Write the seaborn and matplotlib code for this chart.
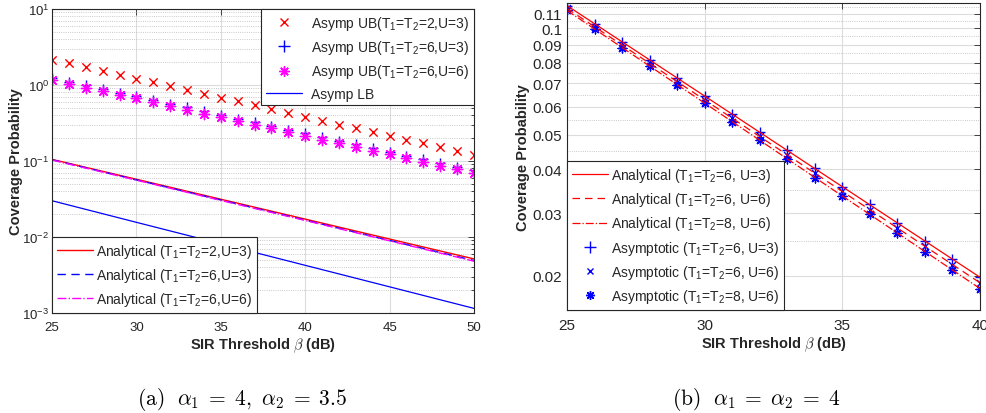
import matplotlib
matplotlib.use("Agg")
import matplotlib.pyplot as plt
import seaborn as sns
from matplotlib.lines import Line2D
from matplotlib.ticker import FixedLocator, FixedFormatter, LogLocator, NullFormatter

# ---------------- data: panel (a) ----------------
beta_a = list(range(25, 51))
ub_t2_u3 = [2.15, 1.92, 1.71, 1.52, 1.36, 1.21, 1.08, 0.96, 0.86, 0.76, 0.68, 0.61, 0.54,
            0.48, 0.43, 0.38, 0.34, 0.30, 0.27, 0.24, 0.215, 0.19, 0.17, 0.152, 0.136, 0.121]
ub_t6_u3 = [1.24, 1.11, 0.99, 0.886, 0.792, 0.72, 0.64, 0.57, 0.506, 0.452, 0.404, 0.361, 0.323,
            0.289, 0.258, 0.231, 0.206, 0.184, 0.165, 0.147, 0.132, 0.118, 0.105, 0.094, 0.084, 0.075]
ub_t6_u6 = [1.16, 1.036, 0.926, 0.827, 0.739, 0.670, 0.595, 0.527, 0.471, 0.421, 0.376, 0.336, 0.300,
            0.268, 0.240, 0.214, 0.191, 0.171, 0.153, 0.136, 0.122, 0.109, 0.097, 0.087, 0.078, 0.069]
beta_a_line = [25, 30, 35, 40, 45, 50]
an_t2_u3 = [0.105, 0.0575, 0.0314, 0.0172, 0.0094, 0.00515]
an_t6_u3 = [0.104, 0.0565, 0.0307, 0.0167, 0.0090, 0.0049]
an_t6_u6 = [0.103, 0.0559, 0.0303, 0.0165, 0.0089, 0.0048]
asymp_lb = [0.030, 0.0156, 0.00814, 0.00424, 0.00221, 0.00115]

# ---------------- data: panel (b) ----------------
beta_b = list(range(25, 41))
as_t6_u3 = [0.116, 0.1031, 0.0917, 0.0815, 0.0724, 0.0644, 0.0572, 0.0509, 0.0452, 0.0402,
            0.0357, 0.0318, 0.0282, 0.0251, 0.0223, 0.0198]
as_t6_u6 = [0.1139, 0.1011, 0.0898, 0.0797, 0.0707, 0.0628, 0.0557, 0.0495, 0.0439, 0.0390,
            0.0346, 0.0307, 0.0273, 0.0242, 0.0215, 0.0191]
as_t8_u6 = [0.1124, 0.0996, 0.0883, 0.0783, 0.0694, 0.0615, 0.0545, 0.0483, 0.0428, 0.0379,
            0.0336, 0.0298, 0.0264, 0.0234, 0.0207, 0.0184]
beta_b_line = [25, 30, 35, 40]
anb_t6_u3 = [0.116, 0.0644, 0.0357, 0.0198]
anb_t6_u6 = [0.1139, 0.0628, 0.0346, 0.0191]
anb_t8_u6 = [0.1124, 0.0615, 0.0336, 0.0184]
yticks_b = [0.02, 0.03, 0.04, 0.05, 0.06, 0.07, 0.08, 0.09, 0.1, 0.11]
yticklabels_b = ["0.02", "0.03", "0.04", "0.05", "0.06", "0.07", "0.08", "0.09", "0.1", "0.11"]

sns.set_theme(style="white")
plt.rcParams["font.family"] = ["Liberation Sans", "DejaVu Sans"]
plt.rcParams["mathtext.fontset"] = "custom"
plt.rcParams["mathtext.rm"] = "Liberation Sans"
plt.rcParams["mathtext.it"] = "Liberation Sans:italic"
plt.rcParams["mathtext.bf"] = "Liberation Sans:bold"

TXT = "#262626"
STAR = (8, 2, 0)

fig = plt.figure(figsize=(9.87, 4.14), dpi=100)
axa = fig.add_axes([52/987, 1-314/414, (474-52)/987, (314-10)/414])
axb = fig.add_axes([567/987, 1-311/414, (980-567)/987, (311-4)/414])

def style(ax):
    for s in ax.spines.values():
        s.set_color(TXT)
        s.set_linewidth(0.8)
        s.set_visible(True)
    ax.tick_params(which="both", direction="in", top=True, right=True, colors=TXT,
                   labelsize=9.5, width=0.6)
    ax.tick_params(which="major", length=4)
    ax.tick_params(which="minor", length=2)
    ax.grid(which="major", color="#dcdcdc", linewidth=0.8, linestyle="-")
    ax.set_axisbelow(True)

# ---------------- panel (a) ----------------
ax = axa
ax.set_yscale("log")
sns.lineplot(x=beta_a_line, y=an_t2_u3, ax=ax, color="red", linewidth=1.0, linestyle="-", legend=False)
sns.lineplot(x=beta_a_line, y=an_t6_u3, ax=ax, color="blue", linewidth=1.0, linestyle=(0, (6, 4)), legend=False)
sns.lineplot(x=beta_a_line, y=an_t6_u6, ax=ax, color="magenta", linewidth=1.0, linestyle="-.", legend=False)
sns.lineplot(x=beta_a_line, y=asymp_lb, ax=ax, color="blue", linewidth=0.9, linestyle="-", legend=False)
sns.scatterplot(x=beta_a, y=ub_t2_u3, ax=ax, marker="x", color="red", s=36, linewidth=1.0, legend=False)
sns.scatterplot(x=beta_a, y=ub_t6_u3, ax=ax, marker="+", color="blue", s=60, linewidth=1.0, legend=False)
sns.scatterplot(x=beta_a, y=ub_t6_u6, ax=ax, marker=STAR, color="magenta", s=55, linewidth=1.0, legend=False)
ax.set_xlim(25, 50)
ax.set_ylim(1e-3, 10)
ax.set_xticks([25, 30, 35, 40, 45, 50])
ax.yaxis.set_major_locator(LogLocator(base=10, numticks=10))
ax.yaxis.set_minor_locator(LogLocator(base=10, subs=range(2, 10), numticks=20))
ax.yaxis.set_minor_formatter(NullFormatter())
style(ax)
ax.tick_params(axis="x", which="major", pad=6)
ax.tick_params(axis="y", which="major", pad=2)
ax.grid(which="minor", axis="y", color="#b8b8b8", linewidth=0.6, linestyle=":")
ax.set_xlabel(r"SIR Threshold $\beta$ (dB)", fontsize=10.5, fontweight="bold", color=TXT)
ax.xaxis.label.set_math_fontfamily("cm")
ax.xaxis.set_label_coords(0.5, (314-337)/304)
ax.set_ylabel("Coverage Probability", fontsize=10.5, fontweight="bold", color=TXT)
ax.yaxis.set_label_coords((23-52)/422, 0.5)

h_low = [Line2D([], [], color="red", lw=1.0, ls="-"),
         Line2D([], [], color="blue", lw=1.0, ls=(0, (6, 4))),
         Line2D([], [], color="magenta", lw=1.0, ls="-.")]
l_low = ["Analytical (T$_1$=T$_2$=2,U=3)", "Analytical (T$_1$=T$_2$=6,U=3)", "Analytical (T$_1$=T$_2$=6,U=6)"]
leg1 = ax.legend(h_low, l_low, loc="lower left", borderaxespad=0, fontsize=10, fancybox=False,
                 framealpha=1, edgecolor=TXT, handlelength=2.6, labelspacing=0.45,
                 handletextpad=0.2, borderpad=0.35)
leg1.get_frame().set_linewidth(0.8)
ax.add_artist(leg1)
h_up = [Line2D([], [], color="red", marker="x", ls="none", ms=6),
        Line2D([], [], color="blue", marker="+", ls="none", ms=8),
        Line2D([], [], color="magenta", marker=STAR, ls="none", ms=7.5),
        Line2D([], [], color="blue", lw=0.9, ls="-")]
l_up = ["Asymp UB(T$_1$=T$_2$=2,U=3)", "Asymp UB(T$_1$=T$_2$=6,U=3)", "Asymp UB(T$_1$=T$_2$=6,U=6)", "Asymp LB"]
leg2 = ax.legend(h_up, l_up, loc="upper right", borderaxespad=0, fontsize=10, fancybox=False,
                 framealpha=1, edgecolor=TXT, handlelength=2.6, labelspacing=0.45,
                 handletextpad=0.6, borderpad=0.35)
leg2.get_frame().set_linewidth(0.8)

# ---------------- panel (b) ----------------
ax = axb
ax.set_yscale("log")
sns.lineplot(x=beta_b_line, y=anb_t6_u3, ax=ax, color="red", linewidth=0.9, linestyle="-", legend=False)
sns.lineplot(x=beta_b_line, y=anb_t6_u6, ax=ax, color="red", linewidth=0.9, linestyle=(0, (6, 4)), legend=False)
sns.lineplot(x=beta_b_line, y=anb_t8_u6, ax=ax, color="red", linewidth=0.9, linestyle="-.", legend=False)
sns.scatterplot(x=beta_b, y=as_t6_u3, ax=ax, marker="+", color="blue", s=60, linewidth=1.0, legend=False)
sns.scatterplot(x=beta_b, y=as_t6_u6, ax=ax, marker="x", color="blue", s=25, linewidth=1.0, legend=False)
sns.scatterplot(x=beta_b, y=as_t8_u6, ax=ax, marker=STAR, color="blue", s=40, linewidth=1.0, legend=False)
ax.set_xlim(25, 40)
ax.set_ylim(0.016, 0.118)
ax.set_xticks([25, 30, 35, 40])
ax.yaxis.set_major_locator(FixedLocator(yticks_b))
ax.yaxis.set_major_formatter(FixedFormatter(yticklabels_b))
ax.yaxis.set_minor_locator(FixedLocator([0.025, 0.035, 0.045, 0.055, 0.065, 0.075, 0.085, 0.095, 0.105, 0.115]))
ax.yaxis.set_minor_formatter(NullFormatter())
style(ax)
ax.tick_params(axis="y", which="minor", length=0)
ax.grid(which="minor", axis="y", color="#b8b8b8", linewidth=0.6, linestyle=":")
ax.tick_params(axis="both", labelsize=11)
ax.tick_params(axis="x", which="major", pad=6)
ax.tick_params(axis="y", which="major", pad=3.5)
ax.set_xlabel(r"SIR Threshold $\beta$ (dB)", fontsize=10.5, fontweight="bold", color=TXT)
ax.xaxis.label.set_math_fontfamily("cm")
ax.xaxis.set_label_coords(0.5, (311-336)/307)
ax.set_ylabel("Coverage Probability", fontsize=10.5, fontweight="bold", color=TXT)
ax.yaxis.set_label_coords((530-567)/413, 0.5)

h_b = [Line2D([], [], color="red", lw=0.9, ls="-"),
       Line2D([], [], color="red", lw=0.9, ls=(0, (6, 4))),
       Line2D([], [], color="red", lw=0.9, ls="-."),
       Line2D([], [], color="blue", marker="+", ls="none", ms=8),
       Line2D([], [], color="blue", marker="x", ls="none", ms=5),
       Line2D([], [], color="blue", marker=STAR, ls="none", ms=6.5)]
l_b = ["Analytical (T$_1$=T$_2$=6, U=3)", "Analytical (T$_1$=T$_2$=6, U=6)", "Analytical (T$_1$=T$_2$=8, U=6)",
       "Asymptotic (T$_1$=T$_2$=6, U=3)", "Asymptotic (T$_1$=T$_2$=6, U=6)", "Asymptotic (T$_1$=T$_2$=8, U=6)"]
leg3 = ax.legend(h_b, l_b, loc="lower left", borderaxespad=0, fontsize=10, fancybox=False,
                 framealpha=1, edgecolor=TXT, handlelength=2.6, labelspacing=0.45,
                 handletextpad=0.2, borderpad=0.35)
leg3.get_frame().set_linewidth(0.8)

# captions
fig.text(242/987, 1-400/414, r"$\mathrm{(a)}\ \ \alpha_1 \;=\; 4,\ \alpha_2 \;=\; 3.5$", ha="center", va="center",
         fontsize=15.5, math_fontfamily="cm", color="black")
fig.text(756/987, 1-400/414, r"$\mathrm{(b)}\ \ \alpha_1 \;=\; \alpha_2 \;=\; 4$", ha="center", va="center",
         fontsize=15.5, math_fontfamily="cm", color="black")

fig.savefig("out.png", dpi=100)
